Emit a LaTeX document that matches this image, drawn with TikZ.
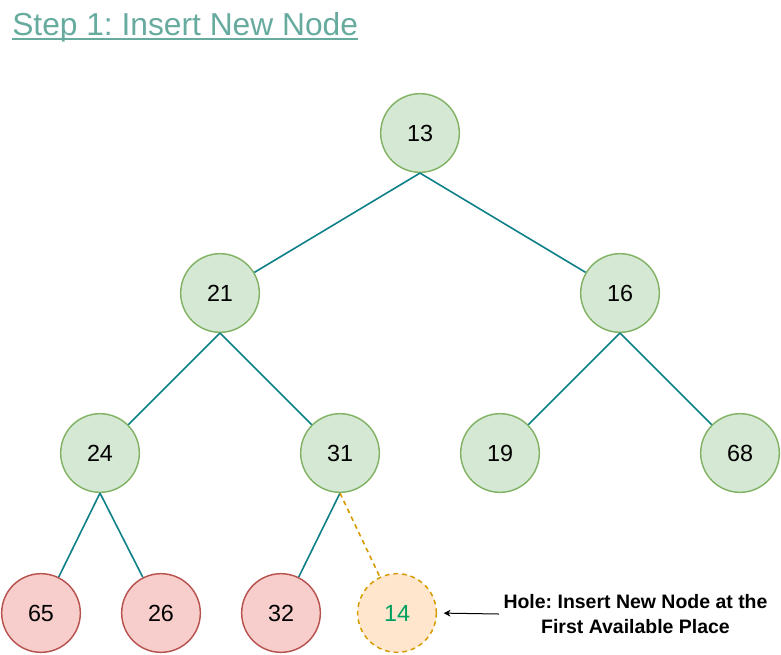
\documentclass[tikz,border=0pt]{standalone}
\usepackage{fontspec}
\setmainfont{Liberation Sans}
\frenchspacing
\usetikzlibrary{arrows.meta}
\definecolor{verdeF}{HTML}{D5E8D4}
\definecolor{verdeB}{HTML}{82B366}
\definecolor{rojoF}{HTML}{F8CECC}
\definecolor{rojoB}{HTML}{B85450}
\definecolor{naranjaF}{HTML}{FFE6CC}
\definecolor{naranjaB}{HTML}{D79B00}
\definecolor{arista}{HTML}{0E8088}
\definecolor{titulo}{HTML}{67AB9F}
\definecolor{nuevo}{HTML}{00A060}
\begin{document}
\begin{tikzpicture}[x=0.75pt, y=-0.75pt,
  nodo/.style={circle, draw=verdeB, fill=verdeF, line width=1.1pt, minimum size=59pt, inner sep=0pt, font=\fontsize{17.5}{19}\selectfont},
  hoja/.style={nodo, draw=rojoB, fill=rojoF},
  hueco/.style={nodo, draw=naranjaB, fill=naranjaF, text=nuevo, dash pattern=on 3.5pt off 3pt},
  rama/.style={draw=arista, line width=1.2pt}]
  \useasboundingbox (0,0) rectangle (781,654);
  \node[font=\fontsize{23.8}{26}\selectfont, text=titulo, anchor=base west, inner sep=0pt] (tit) at (12,35) {Step 1: Insert New Node};
  \draw[titulo, line width=1.5pt] ([yshift=-3.3pt]tit.base west) -- ([yshift=-3.3pt]tit.base east);
  \node[nodo] (n13) at (420,133) {13};
  \node[nodo] (n21) at (220,293) {21};
  \node[nodo] (n16) at (620,293) {16};
  \node[nodo] (n24) at (100,453) {24};
  \node[nodo] (n31) at (340,453) {31};
  \node[nodo] (n19) at (500,453) {19};
  \node[nodo] (n68) at (740,453) {68};
  \node[hoja] (n65) at (41,613) {65};
  \node[hoja] (n26) at (161,613) {26};
  \node[hoja] (n32) at (281,613) {32};
  \node[hueco] (n14) at (397,613) {14};
  \draw[rama] (n13.south) -- (n21);
  \draw[rama] (n13.south) -- (n16);
  \draw[rama] (n21.south) -- (n24);
  \draw[rama] (n21.south) -- (n31);
  \draw[rama] (n16.south) -- (n19);
  \draw[rama] (n16.south) -- (n68);
  \draw[rama] (n24.south) -- (n65);
  \draw[rama] (n24.south) -- (n26);
  \draw[rama] (n31.south) -- (n32);
  \draw[draw=naranjaB, line width=1.2pt, dash pattern=on 3.5pt off 3pt] (n31.south) -- (n14);
  \node[font=\bfseries\fontsize{14.6}{19}\selectfont, align=center] (nota) at (635.5,614) {Hole: Insert New Node at the\\First Available Place};
  \draw[-{Stealth[length=5pt,width=5pt,inset=1.5pt]}, line width=0.75pt, shorten >=5pt, shorten <=0pt] (nota.west) -- (n14.east);
\end{tikzpicture}
\end{document}
